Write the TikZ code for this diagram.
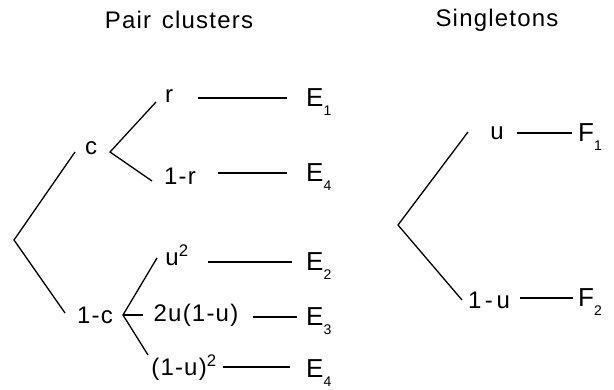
\documentclass[tikz,border=0pt]{standalone}
\usepackage{fontspec}
\setmainfont{Liberation Sans}[LetterSpace=5]
\newcommand{\sub}[1]{\raisebox{-9pt}{\fontsize{14}{15}\selectfont #1}}
\begin{document}
\begin{tikzpicture}[x=1pt,y=-1pt,
  lbl/.style={inner sep=0pt,font=\fontsize{24}{28}\selectfont},
  ttl/.style={inner sep=0pt,font=\fontsize{24}{28}\selectfont},
  ev/.style={inner sep=0pt,anchor=base west,font=\fontsize{26}{30}\selectfont},
  br/.style={line width=1.3pt,line join=miter},
  ln/.style={line width=1.1pt}]
\useasboundingbox (0,0) rectangle (614,390);
\fill[white] (0,0) rectangle (614,390);
% titles
\node[ttl] (t1) at (179,20) {Pair\hspace{0.45em}clusters};
\node[ttl] (t2) at (497,20) {Singletons};
% left tree labels
\node[lbl] (c) at (91,148) {c};
\node[lbl] (r) at (169,96) {r};
\node[lbl] (r1) at (180,176) {1-r};
\node[lbl] (u2) at (177,255) {u\textsuperscript{2}};
\node[lbl] (c1) at (95,315) {1-c};
\node[lbl] (uu) at (196,315) {2u(1-u)};
\node[lbl] (uq) at (184,368) {(1-u)\textsuperscript{2}};
\node[ev] (e1) at (306,107) {E\sub{1}};
\node[ev] (e4a) at (306,182) {E\sub{4}};
\node[ev] (e2) at (306,271) {E\sub{2}};
\node[ev] (e3) at (306,326) {E\sub{3}};
\node[ev] (e4b) at (306,378) {E\sub{4}};
% right tree labels
\node[lbl] (u) at (497,133) {u};
\node[lbl] (u1) at (489,300) {1\hspace{0.15em}-\hspace{0.15em}u};
\node[ev] (f1) at (578,142) {F\sub{1}};
\node[ev] (f2) at (578,307) {F\sub{2}};
% coordinates
\coordinate (root) at (14,240);
\coordinate (rootU) at (75,152);
\coordinate (rootD) at (65,313);
\coordinate (cv) at (110,152);
\coordinate (cvU) at (156,102);
\coordinate (cvD) at (152,181);
\coordinate (dv) at (123,315);
\coordinate (dvU) at (157,258);
\coordinate (dvM) at (143,315);
\coordinate (dvD) at (148,355);
\coordinate (sv) at (398,225);
\coordinate (svU) at (468,132);
\coordinate (svD) at (462,300);
% branches
\draw[br] (rootU) -- (root) -- (rootD);
\draw[br] (cvU) -- (cv) -- (cvD);
\draw[br] (dvU) -- (dv) -- (dvD);
\draw[br] (dv) -- (dvM);
\draw[br] (svU) -- (sv) -- (svD);
% horizontal connectors
\coordinate (h1a) at (198,98); \coordinate (h1b) at (287,98);
\coordinate (h2a) at (218,173); \coordinate (h2b) at (287,173);
\coordinate (h3a) at (208,262); \coordinate (h3b) at (292,262);
\coordinate (h4a) at (253,317); \coordinate (h4b) at (297,317);
\coordinate (h5a) at (223,367); \coordinate (h5b) at (290,367);
\coordinate (h6a) at (517,133); \coordinate (h6b) at (572,133);
\coordinate (h7a) at (520,298); \coordinate (h7b) at (573,298);
\draw[ln] (h1a) -- (h1b);
\draw[ln] (h2a) -- (h2b);
\draw[ln] (h3a) -- (h3b);
\draw[ln] (h4a) -- (h4b);
\draw[ln] (h5a) -- (h5b);
\draw[ln] (h6a) -- (h6b);
\draw[ln] (h7a) -- (h7b);
\end{tikzpicture}
\end{document}
